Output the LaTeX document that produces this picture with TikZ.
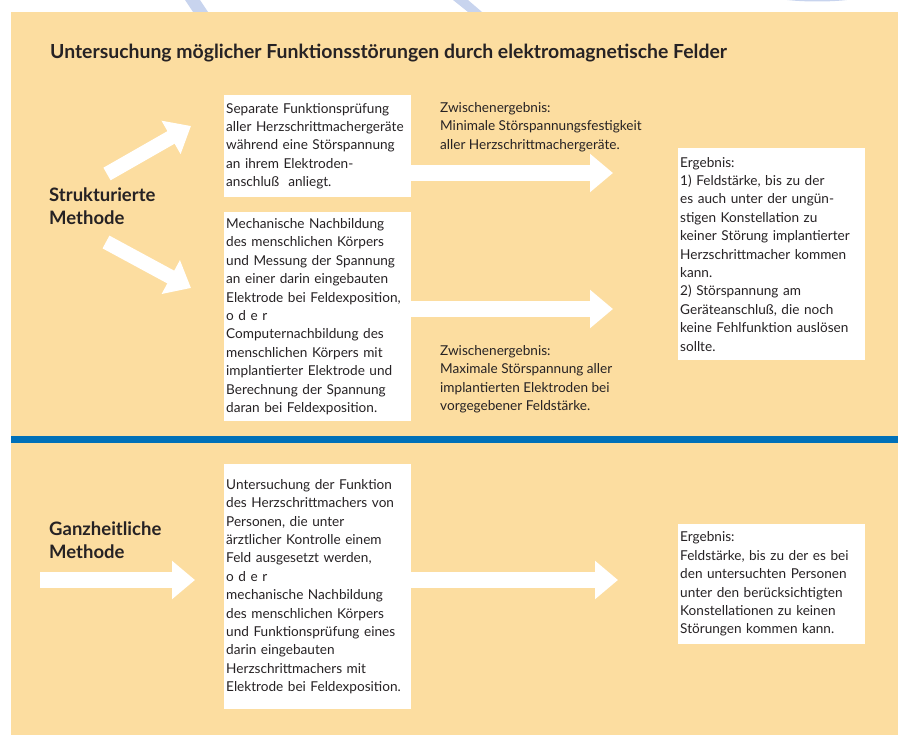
\documentclass[tikz,border=0pt]{standalone}
\usepackage{fontspec}
\setmainfont{Lato}
\usetikzlibrary{arrows.meta}
\definecolor{bgorange}{RGB}{252,221,160}
\definecolor{bandblue}{RGB}{0,112,184}
\definecolor{inkgray}{RGB}{38,34,36}
\definecolor{ghostblue}{RGB}{200,212,238}
\tikzset{
  box/.style={fill=white, anchor=north west, align=left, text width=183pt,
    inner xsep=2pt, inner ysep=6pt, text=inkgray,
    font=\fontsize{13.6}{18.4}\selectfont},
  note/.style={anchor=north west, align=left, inner sep=0pt, text=inkgray,
    font=\fontsize{13.6}{18.4}\selectfont},
  method/.style={anchor=north west, align=left, inner sep=0pt, text=inkgray,
    font=\fontsize{18.5}{23}\selectfont\bfseries},
  blockarrow/.style={white, line width=16pt, -{Triangle[width=37pt,length=23pt]}},
  diagarrow/.style={white, line width=14.5pt, -{Triangle[width=37pt,length=23pt]}}
}
\begin{document}
\begin{tikzpicture}[x=1pt,y=-1pt]
      \useasboundingbox (0,0) rectangle (898,735);
      % faint marks above the panel
      \fill[ghostblue] (185,0) -- (200,0) -- (208,12) -- (193,12) -- cycle;
      \fill[ghostblue] (453,0) -- (468,0) -- (482,12) -- (468,12) -- cycle;
      \fill[ghostblue] (787,0) .. controls (805,2) and (830,2) .. (847,0) -- cycle;
      % panel and separator
      \fill[bgorange] (11,12) rectangle (898,735);
      \fill[bandblue] (11,436) rectangle (898,443);

      \node[anchor=base west, inner sep=0pt, text=inkgray,
        font=\fontsize{19.4}{22}\selectfont\bfseries] (title) at (50,59)
        {Untersuchung möglicher Funktionsstörungen durch elektromagnetische Felder};

      \node[method] (strukt) at (49,188) {Strukturierte\\Methode};
      \node[method] (ganz) at (49,522) {Ganzheitliche\\Methode};

      \node[box, minimum height=102pt] (sep) at (224,95)
        {Separate Funktionsprüfung\\
         aller Herzschrittmachergeräte\\
         während eine Störspannung\\
         an ihrem Elektroden-\\
         anschluß\ \ anliegt.};
      \node[box, minimum height=209pt] (mech) at (224,212)
        {Mechanische Nachbildung\\
         des menschlichen Körpers\\
         und Messung der Spannung\\
         an einer darin eingebauten\\
         Elektrode bei Feldexposition,\\
         o d e r\\
         Computernachbildung des\\
         menschlichen Körpers mit\\
         implantierter Elektrode und\\
         Berechnung der Spannung\\
         daran bei Feldexposition.};
      \node[box, minimum height=212pt] (erg1) at (678,148)
        {Ergebnis:\\
         1) Feldstärke, bis zu der\\
         es auch unter der ungün-\\
         stigen Konstellation zu\\
         keiner Störung implantierter\\
         Herzschrittmacher kommen\\
         kann.\\
         2) Störspannung am\\
         Geräteanschluß, die noch\\
         keine Fehlfunktion auslösen\\
         sollte.};
      \node[box, minimum height=245pt] (pers) at (224,464)
        {Untersuchung der Funktion\\
         des Herzschrittmachers von\\
         Personen, die unter\\
         ärztlicher Kontrolle einem\\
         Feld ausgesetzt werden,\\
         o d e r\\
         mechanische Nachbildung\\
         des menschlichen Körpers\\
         und Funktionsprüfung eines\\
         darin eingebauten\\
         Herzschrittmachers mit\\
         Elektrode bei Feldexposition.};
      \node[box, minimum height=120pt] (erg2) at (678,524)
        {Ergebnis:\\
         Feldstärke, bis zu der es bei\\
         den untersuchten Personen\\
         unter den berücksichtigten\\
         Konstellationen zu keinen\\
         Störungen kommen kann.};

      \node[note] (zw1) at (440,102)
        {Zwischenergebnis:\\
         Minimale Störspannungsfestigkeit\\
         aller Herzschrittmachergeräte.};
      \node[note] (zw2) at (440,345)
        {Zwischenergebnis:\\
         Maximale Störspannung aller\\
         implantierten Elektroden bei\\
         vorgegebener Feldstärke.};

      % arrow ends
      \coordinate (d1s) at (107,174);
      \coordinate (d1t) at (191,126);
      \coordinate (d2s) at (106,242);
      \coordinate (d2t) at (191,288);
      \coordinate (r1) at (613,173);
      \coordinate (r2) at (613,309);
      \coordinate (l3) at (40,580);
      \coordinate (r3) at (195,580);
      \coordinate (r4) at (618,580);

      \def \Diags{d1s/d1t, d2s/d2t}
      \def \Outs{sep/r1, mech/r2, pers/r4}
      \foreach \a / \b in \Diags{
        \path[draw, diagarrow] (\a) -- (\b);
      }
      \foreach \src / \tip in \Outs{
        \path[draw, blockarrow] (\src.east |- \tip) -- (\tip);
      }
      \path[draw, blockarrow] (l3) -- (r3);
    \end{tikzpicture}
\end{document}
